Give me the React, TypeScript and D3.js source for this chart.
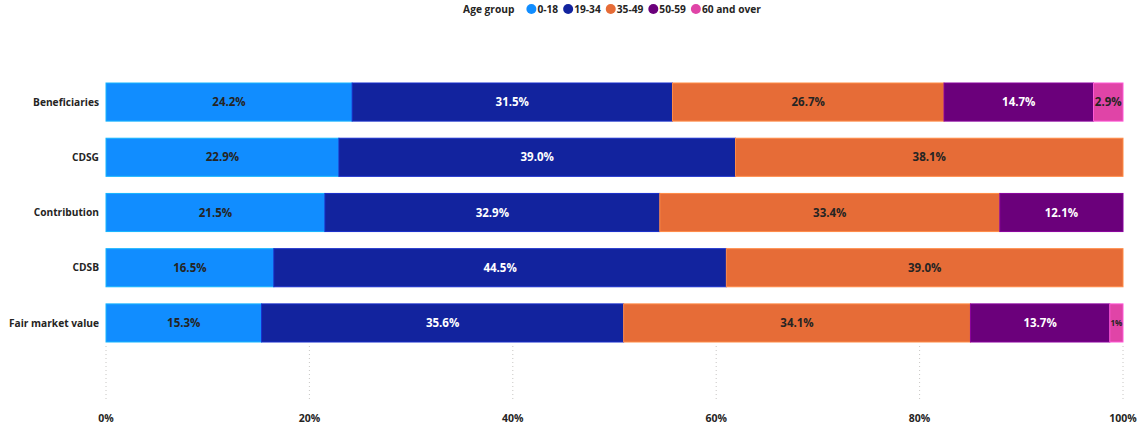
import { useEffect, useRef } from "react";
import * as d3 from "d3";

const categories = ["Beneficiaries", "CDSG", "Contribution", "CDSB", "Fair market value"];
const ageGroups = ["0-18", "19-34", "35-49", "50-59", "60 and over"];
// one array per age group, values in % per category
const age0to18 = [24.2, 22.9, 21.5, 16.5, 15.3];
const age19to34 = [31.5, 39.0, 32.9, 44.5, 35.6];
const age35to49 = [26.7, 38.1, 33.4, 39.0, 34.1];
const age50to59 = [14.7, 0, 12.1, 0, 13.7];
const age60plus = [2.9, 0, 0, 0, 1.3];
const xTicks = [0, 0.2, 0.4, 0.6, 0.8, 1];

const colors = ["#118DFF", "#12239E", "#E66C37", "#6B007B", "#E044A7"];
const labelColors = ["#252423", "#FFFFFF", "#252423", "#FFFFFF", "#252423"];
const FONT = "'Segoe UI', 'Open Sans', sans-serif";

export default function App() {
  const ref = useRef<SVGSVGElement>(null);

  useEffect(() => {
    document.body.style.margin = "0";
    if (!ref.current) return;
    const svg = d3.select(ref.current);
    svg.selectAll("*").remove();

    const series = [age0to18, age19to34, age35to49, age50to59, age60plus];
    const rows = categories.map((c, i) => {
      const vals = series.map((s) => s[i]);
      const total = d3.sum(vals);
      let acc = 0;
      return vals.map((v, k) => {
        const seg = { cat: c, k, v, x0: acc / total, x1: (acc + v) / total };
        acc += v;
        return seg;
      });
    });

    const x = d3.scaleLinear().domain([0, 1]).range([106, 1123]);
    const y = d3
      .scaleBand<string>()
      .domain(categories)
      .range([83, 342])
      .paddingInner(0.31)
      .paddingOuter(0);

    // gridlines (only visible under the bars area)
    svg
      .append("g")
      .selectAll("line")
      .data(xTicks)
      .join("line")
      .attr("x1", (d) => x(d))
      .attr("x2", (d) => x(d))
      .attr("y1", 346)
      .attr("y2", 402)
      .attr("stroke", "#C8C6C4")
      .attr("stroke-dasharray", "1,3");

    // x tick labels
    svg
      .append("g")
      .selectAll("text")
      .data(xTicks)
      .join("text")
      .attr("x", (d) => x(d))
      .attr("y", 422)
      .attr("text-anchor", "middle")
      .attr("font-family", FONT)
      .attr("font-weight", "bold")
      .attr("font-size", 10.5)
      .attr("fill", "#252423")
      .text((d) => d3.format(".0%")(d));

    // category labels
    svg
      .append("g")
      .selectAll("text")
      .data(categories)
      .join("text")
      .attr("x", 99)
      .attr("y", (d) => (y(d) ?? 0) + y.bandwidth() / 2)
      .attr("dy", "0.35em")
      .attr("text-anchor", "end")
      .attr("font-family", FONT)
      .attr("font-weight", "bold")
      .attr("font-size", 10.2)
      .attr("fill", "#252423")
      .text((d) => d);

    const segs = rows.flat().filter((s) => s.v > 0);

    svg
      .append("g")
      .selectAll("rect")
      .data(segs)
      .join("rect")
      .attr("x", (d) => x(d.x0))
      .attr("y", (d) => y(d.cat) ?? 0)
      .attr("width", (d) => x(d.x1) - x(d.x0))
      .attr("height", y.bandwidth())
      .attr("fill", (d) => colors[d.k])
      .attr("stroke", (d) => d3.color(colors[d.k])!.brighter(0.7).formatHex())
      .attr("stroke-width", 1);

    svg
      .append("g")
      .selectAll("text")
      .data(segs)
      .join("text")
      .attr("x", (d) => (x(d.x0) + x(d.x1)) / 2)
      .attr("y", (d) => (y(d.cat) ?? 0) + y.bandwidth() / 2)
      .attr("dy", "0.35em")
      .attr("text-anchor", "middle")
      .attr("font-family", FONT)
      .attr("font-weight", "bold")
      .attr("font-size", (d) => (x(d.x1) - x(d.x0) < 20 ? 8 : 11.5))
      .attr("fill", (d) => labelColors[d.k])
      .text((d) =>
        x(d.x1) - x(d.x0) < 20 ? d3.format(".0f")(d.v) + "%" : d3.format(".1f")(d.v) + "%"
      );

    // legend
    const legend = svg.append("g").attr("font-family", FONT).attr("font-weight", "bold").attr("font-size", 10.2);
    let lx = 0;
    const title = legend.append("text").attr("x", 0).attr("y", 13).attr("fill", "#252423").text("Age group");
    lx = (title.node() as SVGTextElement).getComputedTextLength() + 12;
    ageGroups.forEach((g, k) => {
      legend.append("circle").attr("cx", lx + 5).attr("cy", 9).attr("r", 5).attr("fill", colors[k]);
      const t = legend
        .append("text")
        .attr("x", lx + 11)
        .attr("y", 13)
        .attr("fill", "#252423")
        .text(g);
      lx += 11 + (t.node() as SVGTextElement).getComputedTextLength() + 5;
    });
    legend.attr("transform", `translate(${612 - (lx - 5) / 2},0)`);
  }, []);

  return <svg ref={ref} width={1140} height={429} style={{ display: "block", background: "#fff" }} />;
}
